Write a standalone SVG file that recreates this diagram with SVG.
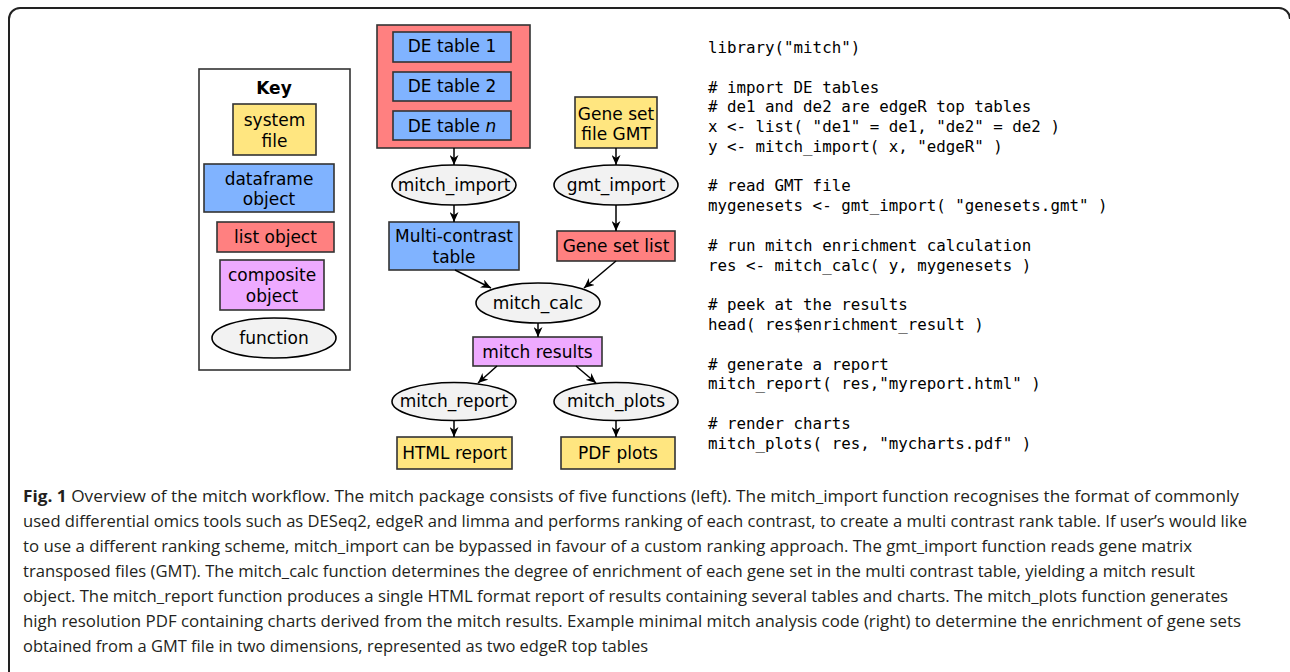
<svg xmlns="http://www.w3.org/2000/svg" width="1290" height="672" viewBox="0 0 1290 672">
  <style>
    .lbl { font-family: "DejaVu Sans", sans-serif; font-size: 17px; fill: #000; text-anchor: middle; }
    .key { font-family: "DejaVu Sans", sans-serif; font-size: 17px; font-weight: bold; text-anchor: middle; }
    .code { font-family: "DejaVu Sans Mono", monospace; font-size: 15.8px; fill: #000; }
    .cap { font-family: "Open Sans", "Noto Sans", sans-serif; font-size: 16.6px; fill: #231f20; }
    .file { fill: #ffe680; stroke: #333; stroke-width: 1.6; }
    .df { fill: #80b3ff; stroke: #333; stroke-width: 1.6; }
    .list { fill: #ff8080; stroke: #333; stroke-width: 1.6; }
    .comp { fill: #eeaaff; stroke: #333; stroke-width: 1.6; }
    .fn { fill: #f2f2f2; stroke: #000; stroke-width: 1.6; }
    .edge { stroke: #000; stroke-width: 1.5; fill: none; marker-end: url(#arrow); }
  </style>
  <defs>
    <marker id="arrow" markerUnits="userSpaceOnUse" markerWidth="11" markerHeight="9" refX="10" refY="4.5" orient="auto">
      <path d="M0,0 L10,4.5 L0,9 L3,4.5 z" fill="#000"/>
    </marker>
  </defs>

  <rect width="1290" height="672" fill="#fff"/>

  <!-- figure frame -->
  <path d="M9,672 V19 A11,11 0 0 1 20,8 H1279 A11,11 0 0 1 1290,19" fill="none" stroke="#222" stroke-width="2"/>

  <!-- legend -->
  <g id="key">
    <rect x="199" y="69" width="151" height="301" fill="#fff" stroke="#333" stroke-width="1.6"/>
    <text class="key" x="274" y="94">Key</text>
    <rect class="file" x="233" y="104" width="83" height="51"/>
    <text class="lbl" x="274.5" y="126">system</text>
    <text class="lbl" x="274.5" y="147">file</text>
    <rect class="df" x="204" y="164" width="130" height="48"/>
    <text class="lbl" x="269" y="185">dataframe</text>
    <text class="lbl" x="269" y="205">object</text>
    <rect class="list" x="217" y="222" width="117" height="30"/>
    <text class="lbl" x="275.5" y="243">list object</text>
    <rect class="comp" x="220" y="260" width="104" height="50"/>
    <text class="lbl" x="272" y="281">composite</text>
    <text class="lbl" x="272" y="302">object</text>
    <ellipse class="fn" cx="274" cy="338" rx="62" ry="20"/>
    <text class="lbl" x="274" y="344">function</text>
  </g>

  <!-- workflow nodes -->
  <g id="de_tables">
    <rect class="list" x="377" y="25" width="153" height="123"/>
    <rect class="df" x="393" y="32" width="118" height="30"/>
    <text class="lbl" x="452" y="52">DE table 1</text>
    <rect class="df" x="393" y="72" width="118" height="29"/>
    <text class="lbl" x="452" y="92">DE table 2</text>
    <rect class="df" x="393" y="111" width="118" height="29"/>
    <text class="lbl" x="452" y="132">DE table <tspan font-style="italic">n</tspan></text>
  </g>
  <g id="gmt_file">
    <rect class="file" x="575" y="97" width="82" height="51"/>
    <text class="lbl" x="616" y="120">Gene set</text>
    <text class="lbl" x="616" y="140">file GMT</text>
  </g>
  <g id="mitch_import">
    <ellipse class="fn" cx="454" cy="185" rx="62" ry="20"/>
    <text class="lbl" x="454" y="191">mitch_import</text>
  </g>
  <g id="gmt_import">
    <ellipse class="fn" cx="616" cy="185" rx="62" ry="20"/>
    <text class="lbl" x="616" y="191">gmt_import</text>
  </g>
  <g id="multi_contrast">
    <rect class="df" x="389" y="222" width="130" height="48"/>
    <text class="lbl" x="454" y="242">Multi-contrast</text>
    <text class="lbl" x="454" y="263">table</text>
  </g>
  <g id="gene_set_list">
    <rect class="list" x="557" y="231" width="118" height="30"/>
    <text class="lbl" x="616" y="252">Gene set list</text>
  </g>
  <g id="mitch_calc">
    <ellipse class="fn" cx="538" cy="303" rx="62" ry="20"/>
    <text class="lbl" x="538" y="309">mitch_calc</text>
  </g>
  <g id="mitch_results">
    <rect class="comp" x="473" y="337" width="129" height="29"/>
    <text class="lbl" x="537.5" y="358">mitch results</text>
  </g>
  <g id="mitch_report">
    <ellipse class="fn" cx="454" cy="401.5" rx="62" ry="19"/>
    <text class="lbl" x="454" y="407">mitch_report</text>
  </g>
  <g id="mitch_plots">
    <ellipse class="fn" cx="616" cy="401.5" rx="62" ry="19"/>
    <text class="lbl" x="616" y="407">mitch_plots</text>
  </g>
  <g id="html_report">
    <rect class="file" x="397" y="437" width="115" height="32"/>
    <text class="lbl" x="454.5" y="459">HTML report</text>
  </g>
  <g id="pdf_plots">
    <rect class="file" x="561" y="437" width="114" height="32"/>
    <text class="lbl" x="618" y="459">PDF plots</text>
  </g>

  <!-- connectors -->
  <g id="edges">
    <line class="edge" x1="454" y1="148" x2="454" y2="165"/>
    <line class="edge" x1="616" y1="148" x2="616" y2="165"/>
    <line class="edge" x1="454" y1="205" x2="454" y2="222"/>
    <line class="edge" x1="616" y1="205" x2="616" y2="231"/>
    <line class="edge" x1="455" y1="270" x2="491" y2="288"/>
    <line class="edge" x1="616" y1="261" x2="584" y2="288"/>
    <line class="edge" x1="538" y1="323" x2="538" y2="337"/>
    <line class="edge" x1="497" y1="366" x2="478" y2="383"/>
    <line class="edge" x1="576" y1="366" x2="596" y2="383"/>
    <line class="edge" x1="454" y1="420.5" x2="454" y2="437"/>
    <line class="edge" x1="616" y1="420.5" x2="616" y2="437"/>
  </g>

  <!-- example R code -->
  <g id="code" class="code" xml:space="preserve">
    <text x="708" y="53">library("mitch")</text>
    <text x="708" y="93"># import DE tables</text>
    <text x="708" y="112"># de1 and de2 are edgeR top tables</text>
    <text x="708" y="132">x &lt;- list( "de1" = de1, "de2" = de2 )</text>
    <text x="708" y="152">y &lt;- mitch_import( x, "edgeR" )</text>
    <text x="708" y="191"># read GMT file</text>
    <text x="708" y="211">mygenesets &lt;- gmt_import( "genesets.gmt" )</text>
    <text x="708" y="251"># run mitch enrichment calculation</text>
    <text x="708" y="271">res &lt;- mitch_calc( y, mygenesets )</text>
    <text x="708" y="310"># peek at the results</text>
    <text x="708" y="330">head( res$enrichment_result )</text>
    <text x="708" y="370"># generate a report</text>
    <text x="708" y="389">mitch_report( res,"myreport.html" )</text>
    <text x="708" y="429"># render charts</text>
    <text x="708" y="449">mitch_plots( res, "mycharts.pdf" )</text>
  </g>

  <!-- caption -->
  <g id="caption" class="cap">
    <text x="23" y="502" textLength="1216" lengthAdjust="spacingAndGlyphs"><tspan font-weight="bold">Fig. 1</tspan> Overview of the mitch workflow. The mitch package consists of five functions (left). The mitch_import function recognises the format of commonly</text>
    <text x="23" y="527" textLength="1224" lengthAdjust="spacingAndGlyphs">used differential omics tools such as DESeq2, edgeR and limma and performs ranking of each contrast, to create a multi contrast rank table. If user’s would like</text>
    <text x="23" y="552" textLength="1169" lengthAdjust="spacingAndGlyphs">to use a different ranking scheme, mitch_import can be bypassed in favour of a custom ranking approach. The gmt_import function reads gene matrix</text>
    <text x="23" y="577" textLength="1172" lengthAdjust="spacingAndGlyphs">transposed files (GMT). The mitch_calc function determines the degree of enrichment of each gene set in the multi contrast table, yielding a mitch result</text>
    <text x="23" y="602" textLength="1205" lengthAdjust="spacingAndGlyphs">object. The mitch_report function produces a single HTML format report of results containing several tables and charts. The mitch_plots function generates</text>
    <text x="23" y="627" textLength="1218" lengthAdjust="spacingAndGlyphs">high resolution PDF containing charts derived from the mitch results. Example minimal mitch analysis code (right) to determine the enrichment of gene sets</text>
    <text x="23" y="652" textLength="625" lengthAdjust="spacingAndGlyphs">obtained from a GMT file in two dimensions, represented as two edgeR top tables</text>
  </g>
</svg>
